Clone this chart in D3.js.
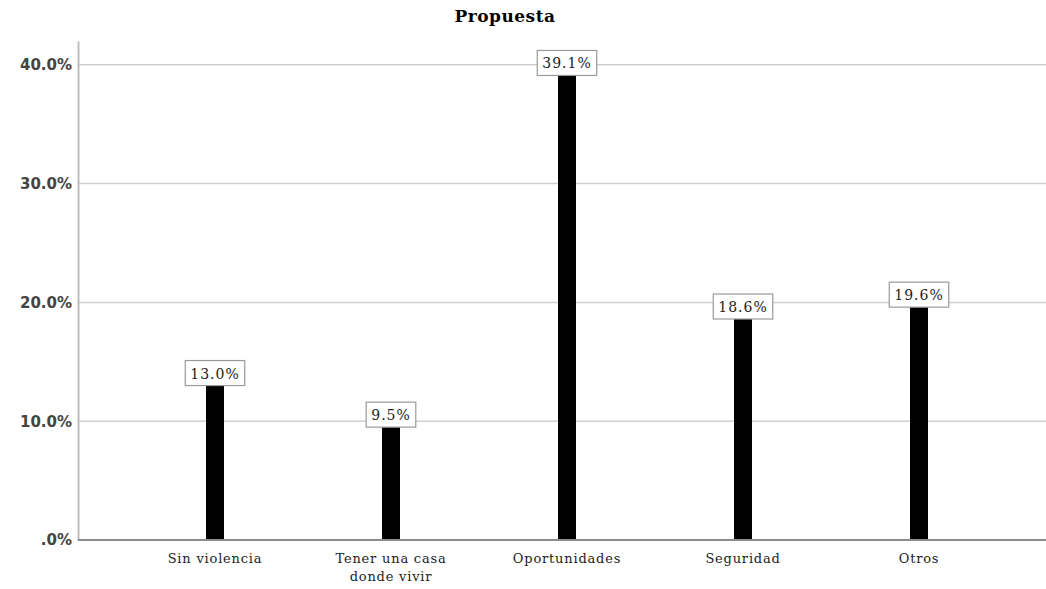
<!DOCTYPE html>
<html>
<head>
<meta charset="utf-8">
<script src="https://cdn.jsdelivr.net/npm/d3@7"></script>
<style>
  body { margin: 0; background: #fff; }
  svg { display: block; }
</style>
</head>
<body>
<svg id="chart"></svg>
<script>
// data
const categories = ["Sin violencia", "Tener una casa donde vivir", "Oportunidades", "Seguridad", "Otros"];
const percents = [13.0, 9.5, 39.1, 18.6, 19.6];
const yTicks = [0, 10, 20, 30, 40];
const title = "Propuesta";

const W = 1046, H = 589;
const margin = { top: 41, right: 0, bottom: 49, left: 78 };
const width = W - margin.left - margin.right;
const height = H - margin.top - margin.bottom;

const svg = d3.select("#chart").attr("width", W).attr("height", H);
const chart = svg.append("g").attr("transform", `translate(${margin.left},${margin.top})`);

const x = d3.scaleBand().domain(categories).range([49, 929]);
const y = d3.scaleLinear().domain([0, 42]).range([height, 0]);

// gridlines
chart.selectAll(".grid")
  .data(yTicks.filter(d => d > 0))
  .enter().append("line")
    .attr("x1", 0).attr("x2", width)
    .attr("y1", d => y(d)).attr("y2", d => y(d))
    .attr("stroke", "#cfcfcf")
    .attr("stroke-width", 1.5);

// y axis
const yAxis = d3.axisLeft(y).tickValues(yTicks).tickSize(0).tickPadding(6)
  .tickFormat(d => d === 0 ? ".0%" : d3.format(".1f")(d) + "%");
const yG = chart.append("g").call(yAxis);
yG.select(".domain").attr("stroke", "#bdbdbd").attr("stroke-width", 2);
yG.selectAll("text")
  .attr("font-family", "DejaVu Sans, sans-serif")
  .attr("font-size", 15)
  .attr("font-weight", "bold")
  .attr("fill", "#444");

// bars
const barW = 18;
chart.selectAll(".bar")
  .data(percents)
  .enter().append("rect")
    .attr("x", (d, i) => x(categories[i]) + x.bandwidth() / 2 - barW / 2)
    .attr("y", d => y(d))
    .attr("width", barW)
    .attr("height", d => height - y(d))
    .attr("fill", "#000");

// baseline
const xAxis = d3.axisBottom(x).tickSize(0).tickPadding(14);
const xG = chart.append("g").attr("transform", `translate(0,${height})`).call(xAxis);
xG.select(".domain").remove();
chart.append("line")
  .attr("x1", 0).attr("x2", width)
  .attr("y1", height).attr("y2", height)
  .attr("stroke", "#8c8c8c").attr("stroke-width", 2);

xG.selectAll("text")
  .attr("font-family", "DejaVu Serif, serif")
  .attr("font-size", 13)
  .attr("letter-spacing", 0.8)
  .attr("fill", "#222")
  .call(wrap, 130);

function wrap(sel, maxW) {
  sel.each(function() {
    const t = d3.select(this);
    const words = t.text().split(" ");
    const yy = t.attr("y"), dy = parseFloat(t.attr("dy"));
    t.text(null);
    let line = [], lineNo = 0;
    let tspan = t.append("tspan").attr("x", 0).attr("y", yy).attr("dy", dy + "em");
    words.forEach(w => {
      line.push(w);
      tspan.text(line.join(" "));
      if (tspan.node().getComputedTextLength() > maxW && line.length > 1) {
        line.pop();
        tspan.text(line.join(" "));
        line = [w];
        tspan = t.append("tspan").attr("x", 0).attr("y", yy)
          .attr("dy", (++lineNo * 1.4 + dy) + "em").text(w);
      }
    });
  });
}

// value labels in boxes
const labels = chart.selectAll(".lab")
  .data(percents)
  .enter().append("g")
    .attr("transform", (d, i) => `translate(${x(categories[i]) + x.bandwidth() / 2},${y(d)})`);

labels.append("text")
  .attr("text-anchor", "middle")
  .attr("y", -7)
  .attr("font-family", "DejaVu Serif, serif")
  .attr("font-size", 14)
  .attr("letter-spacing", 1)
  .attr("fill", "#222")
  .text(d => d3.format(".1f")(d) + "%");

labels.insert("rect", "text")
  .each(function() {
    const tw = this.parentNode.querySelector("text").getComputedTextLength();
    d3.select(this)
      .attr("x", -tw / 2 - 5)
      .attr("y", -25)
      .attr("width", tw + 10)
      .attr("height", 25);
  })
  .attr("fill", "#fff")
  .attr("stroke", "#9a9a9a")
  .attr("stroke-width", 1.2);

// title
svg.append("text")
  .attr("x", 505).attr("y", 22)
  .attr("text-anchor", "middle")
  .attr("font-family", "DejaVu Serif, serif")
  .attr("font-size", 17)
  .attr("font-weight", "bold")
  .attr("letter-spacing", 0.5)
  .attr("fill", "#000")
  .text(title);
</script>
</body>
</html>
